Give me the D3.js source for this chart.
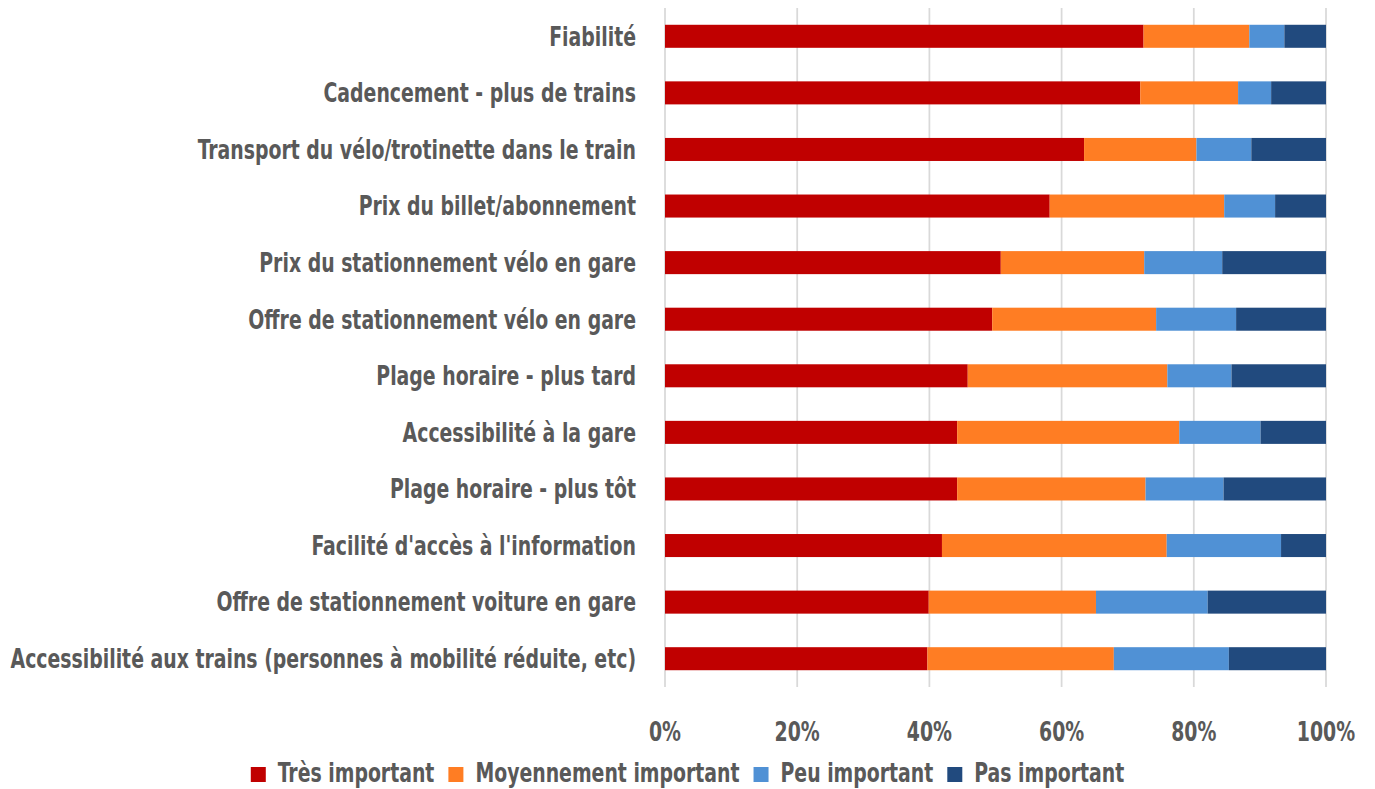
<!DOCTYPE html>
<html>
<head>
<meta charset="utf-8">
<script src="https://cdn.jsdelivr.net/npm/d3@7"></script>
<style>
  body { margin: 0; background: #fff; }
  text { font-family: "Liberation Sans Narrow", "DejaVu Sans Condensed", "Liberation Sans", sans-serif; font-weight: bold; fill: #595959; }
</style>
</head>
<body>
<div class="chart"></div>
<script>
// categories, top to bottom
const categories = [
    'Fiabilité',
    'Cadencement - plus de trains',
    'Transport du vélo/trotinette dans le train',
    'Prix du billet/abonnement',
    'Prix du stationnement vélo en gare',
    'Offre de stationnement vélo en gare',
    'Plage horaire - plus tard',
    'Accessibilité à la gare',
    'Plage horaire - plus tôt',
    "Facilité d'accès à l'information",
    'Offre de stationnement voiture en gare',
    'Accessibilité aux trains (personnes à mobilité réduite, etc)'
];
const series = ['Très important', 'Moyennement important', 'Peu important', 'Pas important'];
const colors = ['#C00000', '#FF7D23', '#5091D5', '#214A7E'];

// shares in %
const tresImportant = [72.4, 71.9, 63.4, 58.2, 50.8, 49.5, 45.8, 44.2, 44.2, 41.9, 39.9, 39.7];
const moyennement   = [16.0, 14.8, 17.0, 26.4, 21.7, 24.8, 30.2, 33.6, 28.5, 34.0, 25.3, 28.2];
const peuImportant  = [ 5.3,  5.0,  8.3,  7.7, 11.8, 12.1,  9.7, 12.3, 11.8, 17.3, 16.9, 17.4];
const pasImportant  = [ 6.3,  8.3, 11.3,  7.7, 15.7, 13.6, 14.3,  9.9, 15.5,  6.8, 17.9, 14.7];
const ticks = [0, 20, 40, 60, 80, 100];

const width = 1375, height = 789;
const margin = ({top: 8, bottom: 102, left: 665, right: 49});

const table = categories.map((c, i) => ({
    cat: c,
    'Très important': tresImportant[i],
    'Moyennement important': moyennement[i],
    'Peu important': peuImportant[i],
    'Pas important': pasImportant[i]
}));
const stacked = d3.stack().keys(series).offset(d3.stackOffsetExpand)(table);

let svg = d3.select('.chart')
    .append('svg')
    .attr('width', width)
    .attr('height', height);

const xScale = d3.scaleLinear()
    .domain([0, 1])
    .range([margin.left, width - margin.right]);
const yScale = d3.scaleBand()
    .domain(categories)
    .range([margin.top, height - margin.bottom])
    .paddingInner(0.593)
    .paddingOuter(0.2965);
const cScale = d3.scaleOrdinal().domain(series).range(colors);

// the original font is a narrow one: squeeze text horizontally around its anchor
function squeeze(sel, k) {
    sel.each(function() {
        const x = +this.getAttribute('x');
        this.setAttribute('transform', `translate(${x},0) scale(${k},1) translate(${-x},0)`);
    });
}

// gridlines
svg.append('g')
    .selectAll('line')
    .data(ticks)
    .enter()
    .append('line')
    .attr('x1', d => xScale(d / 100))
    .attr('x2', d => xScale(d / 100))
    .attr('y1', margin.top)
    .attr('y2', height - margin.bottom)
    .attr('stroke', '#D9D9D9')
    .attr('stroke-width', 1.75);

// bars
svg.append('g')
    .selectAll('g')
    .data(stacked)
    .enter()
    .append('g')
    .attr('fill', d => cScale(d.key))
    .selectAll('rect')
    .data(d => d)
    .enter()
    .append('rect')
    .attr('x', d => xScale(d[0]))
    .attr('width', d => xScale(d[1]) - xScale(d[0]))
    .attr('y', d => yScale(d.data.cat))
    .attr('height', yScale.bandwidth());

// category labels
let labels = svg.append('g')
    .selectAll('text')
    .data(categories)
    .enter()
    .append('text')
    .text(d => d)
    .attr('x', margin.left - 29)
    .attr('y', d => yScale(d) + yScale.bandwidth() / 2)
    .attr('dy', '0.36em')
    .attr('text-anchor', 'end')
    .attr('font-size', 26);

// longest label spans 626px in the reference
const longest = d3.max(labels.nodes(), n => n.getComputedTextLength());
const k = 626 / longest;
squeeze(labels, k);

// tick labels
let tickLabels = svg.append('g')
    .selectAll('text')
    .data(ticks)
    .enter()
    .append('text')
    .text(d => d + '%')
    .attr('x', d => xScale(d / 100))
    .attr('y', 732)
    .attr('dy', '0.36em')
    .attr('text-anchor', 'middle')
    .attr('font-size', 26);
squeeze(tickLabels, k);

// legend, centred on the page
let legend = svg.append('g');
let items = legend.selectAll('g')
    .data(series)
    .enter()
    .append('g');
items.append('rect')
    .attr('width', 15)
    .attr('height', 15)
    .attr('y', 767)
    .attr('fill', d => cScale(d));
let legendText = items.append('text')
    .text(d => d)
    .attr('x', 27)
    .attr('y', 782)
    .attr('font-size', 26);
squeeze(legendText, k);

let xpos = 0;
items.each(function() {
    const w = d3.select(this).select('text').node().getComputedTextLength() * k;
    d3.select(this).attr('transform', `translate(${xpos},0)`);
    xpos += 27 + w + 14;
});
const legendWidth = xpos - 14;
legend.attr('transform', `translate(${width / 2 - legendWidth / 2},0)`);
</script>
</body>
</html>
